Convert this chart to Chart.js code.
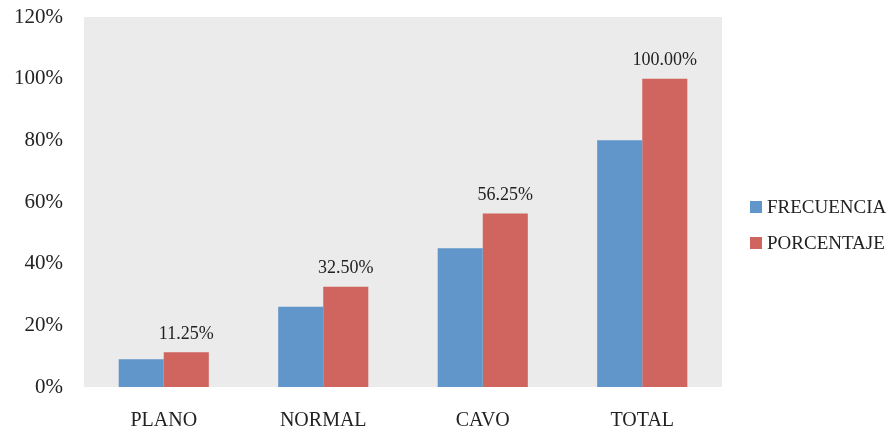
<!DOCTYPE html>
<html>
<head>
<meta charset="utf-8">
<script src="https://cdn.jsdelivr.net/npm/chart.js@4"></script>
<style>
  html, body { margin: 0; padding: 0; background: #fff; }
  #wrap { width: 892px; height: 432px; }
</style>
</head>
<body>
<div id="wrap"><canvas id="myChart" width="892" height="432"></canvas></div>
<script>
// categories and series (percent units)
const categories = ['PLANO', 'NORMAL', 'CAVO', 'TOTAL'];
const frecuencia = [9, 26, 45, 80];
const porcentaje = [11.25, 32.5, 56.25, 100];
const yTicks = [0, 20, 40, 60, 80, 100, 120];
const seriesNames = ['FRECUENCIA', 'PORCENTAJE'];
const seriesColors = ['#6096c9', '#cf655e'];

const FONT = '"Liberation Serif", serif';

// grey plot background
const plotBg = {
  id: 'plotBg',
  beforeDraw(chart) {
    const { ctx, chartArea } = chart;
    ctx.save();
    ctx.fillStyle = '#ebebeb';
    ctx.fillRect(chartArea.left, chartArea.top, chartArea.width, chartArea.height);
    ctx.restore();
  }
};

// value labels above the PORCENTAJE bars
const barLabels = {
  id: 'barLabels',
  afterDatasetsDraw(chart) {
    const { ctx } = chart;
    const meta = chart.getDatasetMeta(1);
    ctx.save();
    ctx.font = '18px ' + FONT;
    ctx.fillStyle = '#222';
    ctx.textAlign = 'center';
    ctx.textBaseline = 'middle';
    meta.data.forEach((bar, i) => {
      ctx.fillText(porcentaje[i].toFixed(2) + '%', bar.x, bar.y - 18.5);
    });
    ctx.restore();
  }
};

// legend on the right, drawn by hand to match the spacing
const sideLegend = {
  id: 'sideLegend',
  afterDraw(chart) {
    const { ctx, chartArea } = chart;
    const x0 = chartArea.right + 28;
    const y0 = 207;
    ctx.save();
    ctx.font = '19px ' + FONT;
    ctx.textBaseline = 'middle';
    ctx.textAlign = 'left';
    seriesNames.forEach((name, i) => {
      const y = y0 + i * 36;
      ctx.fillStyle = seriesColors[i];
      ctx.fillRect(x0, y - 6, 12, 12);
      ctx.fillStyle = '#222';
      ctx.fillText(name, x0 + 17, y + 1);
    });
    ctx.restore();
  }
};

const data = {
  labels: categories,
  datasets: seriesNames.map((name, i) => ({
    label: name,
    data: i === 0 ? frecuencia : porcentaje,
    backgroundColor: seriesColors[i],
    borderWidth: 0
  }))
};

const config = {
  type: 'bar',
  data: data,
  plugins: [plotBg, barLabels, sideLegend],
  options: {
    responsive: false,
    animation: false,
    datasets: {
      bar: { categoryPercentage: 0.565, barPercentage: 1.0 }
    },
    layout: { padding: { top: 17, left: 0, right: 170, bottom: 0 } },
    scales: {
      x: {
        grid: { display: false, drawTicks: false },
        border: { display: false },
        afterFit: (axis) => { axis.height = 45; },
        ticks: { color: '#222', font: { family: FONT, size: 20 }, padding: 22 }
      },
      y: {
        min: 0,
        max: 120,
        afterBuildTicks: (axis) => { axis.ticks = yTicks.map((v) => ({ value: v })); },
        afterFit: (axis) => {
          axis.width = 84;
          axis.paddingTop = 0;
          axis.paddingBottom = 0;
        },
        grid: { display: false, drawTicks: false },
        border: { display: false },
        ticks: {
          color: '#222',
          font: { family: FONT, size: 21 },
          padding: 21,
          callback: (v) => v + '%'
        }
      }
    },
    plugins: {
      legend: { display: false },
      tooltip: { enabled: false }
    }
  }
};

new Chart(document.querySelector('#myChart'), config);
</script>
</body>
</html>
